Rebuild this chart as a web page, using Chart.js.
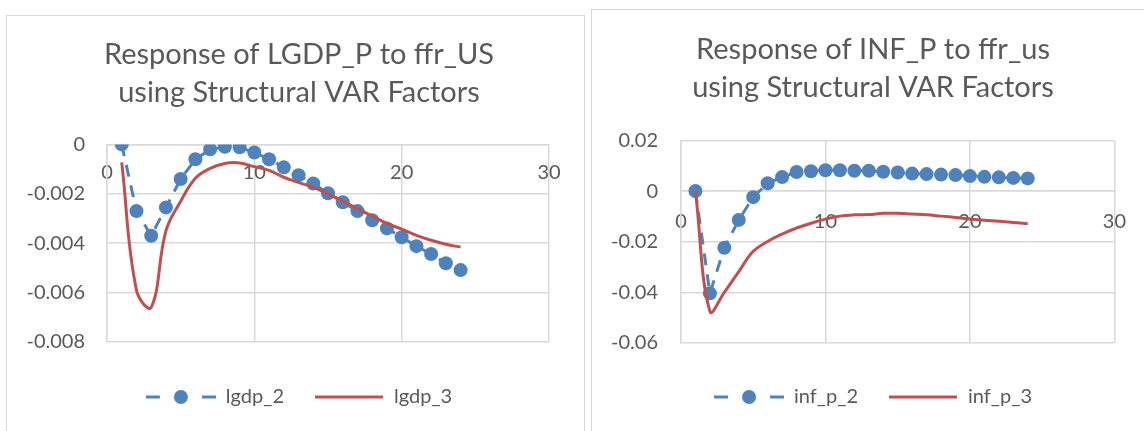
<!DOCTYPE html>
<html lang="en">
<head>
<meta charset="UTF-8">
<title>Structural VAR responses</title>
<script src="https://cdn.jsdelivr.net/npm/chart.js"></script>
<style>
  body { margin: 0; background: #fff; width: 1144px; height: 431px; overflow: hidden; position: relative; }
  .frame { position: absolute; border: 1px solid #d9d9d9; background: #fff; }
  .box { position: absolute; }
</style>
</head>
<body>
<div class="frame" style="left:6px;top:15px;width:577px;height:440px"></div>
<div class="frame" style="left:591px;top:9px;width:570px;height:440px"></div>
<div class="box" style="left:7px;top:16px;width:576px;height:415px"><canvas id="gdpChart"></canvas></div>
<div class="box" style="left:592px;top:10px;width:552px;height:421px"><canvas id="infChart"></canvas></div>

<script>
// horizon steps (shared)
const steps = [1, 2, 3, 4, 5, 6, 7, 8, 9, 10, 11, 12, 13, 14, 15, 16, 17, 18, 19, 20, 21, 22, 23, 24];
const xTicks = [0, 10, 20, 30];

// LGDP_P response
const gdpTitle = ['Response of LGDP_P to ffr_US', 'using Structural VAR Factors'];
const gdpNames = ['lgdp_2', 'lgdp_3'];
const lgdp2 = [0, -0.0027, -0.0037, -0.00255, -0.0014, -0.0006, -0.0002, -0.0001, -0.00012, -0.00033,
  -0.0006, -0.00093, -0.00125, -0.00158, -0.00198, -0.00234, -0.0027, -0.00307, -0.0034, -0.00376,
  -0.00412, -0.00444, -0.00481, -0.00509];
const lgdp3 = [-0.00073, -0.0059, -0.0066, -0.0035, -0.0023, -0.00137, -0.00097, -0.00077, -0.00075, -0.0009,
  -0.00105, -0.00133, -0.00154, -0.00174, -0.002, -0.0023, -0.0026, -0.0029, -0.0032, -0.00343,
  -0.00368, -0.00388, -0.00404, -0.00416];
const gdpTicks = [0, -0.002, -0.004, -0.006, -0.008];

// INF_P response
const infTitle = ['Response of INF_P to ffr_us', 'using Structural VAR Factors'];
const infNames = ['inf_p_2', 'inf_p_3'];
const inf2 = [0, -0.0404, -0.0224, -0.0114, -0.0024, 0.0031, 0.0055, 0.0075, 0.0078, 0.0082,
  0.0082, 0.008, 0.008, 0.0076, 0.0073, 0.0069, 0.0067, 0.0065, 0.0063, 0.0059,
  0.0056, 0.0054, 0.0052, 0.005];
const inf3 = [0, -0.0475, -0.04, -0.0318, -0.0238, -0.0199, -0.017, -0.0146, -0.0127, -0.0111,
  -0.0099, -0.0094, -0.0093, -0.0088, -0.0088, -0.0091, -0.0094, -0.0099, -0.0104, -0.011,
  -0.0115, -0.0119, -0.0124, -0.0129];
const infTicks = [0.02, 0, -0.02, -0.04, -0.06];

const BLUE = '#4f81bd';
const RED = '#c0504d';
const GRID = '#d9d9d9';
const TEXT = '#595959';
const FONT = 'Lato';

// legend markers: dash - dot - dash, and a plain line
function legendMark(kind) {
  const c = document.createElement('canvas');
  c.width = 70; c.height = 16;
  const g = c.getContext('2d');
  g.lineWidth = 3;
  if (kind === 'dot') {
    g.strokeStyle = BLUE;
    g.beginPath();
    g.moveTo(0, 8); g.lineTo(14, 8);
    g.moveTo(56, 8); g.lineTo(70, 8);
    g.stroke();
    g.fillStyle = BLUE;
    g.beginPath(); g.arc(35, 8, 7, 0, Math.PI * 2); g.fill();
  } else {
    g.strokeStyle = RED;
    g.beginPath(); g.moveTo(1, 8); g.lineTo(69, 8); g.stroke();
  }
  return c;
}
const marks = [legendMark('dot'), legendMark('line')];

function drawResponse(id, title, names, dotted, smooth, yTicks, lay) {
  const tickFont = { family: FONT, size: 20 };
  return new Chart(document.getElementById(id), {
    type: 'line',
    data: {
      datasets: [
        {
          label: names[0],
          data: steps.map((x, i) => ({ x: x, y: dotted[i] })),
          borderColor: BLUE,
          backgroundColor: BLUE,
          borderWidth: 3,
          borderDash: [12, 9],
          pointRadius: 7,
          pointHoverRadius: 7,
          pointBorderWidth: 0,
          tension: 0,
          order: 1
        },
        {
          label: names[1],
          data: steps.map((x, i) => ({ x: x, y: smooth[i] })),
          borderColor: RED,
          backgroundColor: RED,
          borderWidth: 3,
          pointRadius: 0,
          tension: 0.4,
          order: 0
        }
      ]
    },
    options: {
      responsive: true,
      maintainAspectRatio: false,
      animation: false,
      layout: { padding: { top: lay.top, bottom: lay.bottom, left: lay.left, right: 0 } },
      plugins: {
        title: {
          display: true,
          text: title,
          color: TEXT,
          font: { family: FONT, size: 29, weight: 'normal', lineHeight: 1.3 },
          padding: { top: 0, bottom: lay.titleGap }
        },
        legend: {
          position: 'bottom',
          labels: {
            usePointStyle: true,
            pointStyleWidth: 70,
            padding: 30,
            color: TEXT,
            font: { family: FONT, size: 20 },
            generateLabels: () => names.map((n, i) => ({
              text: n,
              pointStyle: marks[i],
              datasetIndex: i,
              fillStyle: i ? RED : BLUE,
              strokeStyle: i ? RED : BLUE,
              lineWidth: 0,
              hidden: false,
              fontColor: TEXT
            }))
          }
        },
        tooltip: { enabled: false }
      },
      scales: {
        x: {
          type: 'linear',
          position: { y: 0 },
          min: 0,
          max: 30,
          afterBuildTicks: s => { s.ticks = xTicks.map(v => ({ value: v })); },
          ticks: { color: TEXT, font: tickFont, padding: lay.xPad, maxRotation: 0 },
          grid: { color: GRID, lineWidth: 1.5, drawTicks: false },
          border: { color: GRID, width: 1.5 }
        },
        y: {
          min: Math.min(...yTicks),
          max: Math.max(...yTicks),
          afterBuildTicks: s => { s.ticks = yTicks.map(v => ({ value: v })); },
          afterFit: s => { s.width = lay.yWidth; },
          ticks: { color: TEXT, font: tickFont, padding: lay.yPad, callback: v => String(v) },
          grid: { color: GRID, lineWidth: 1.5, drawTicks: false },
          border: { color: GRID, width: 1.5 }
        },
        // empty spacers: room right of the plot and between the plot and the legend
        padRight: {
          axis: 'y', position: 'right', min: 0, max: 1,
          ticks: { display: false }, grid: { display: false, drawTicks: false }, border: { display: false },
          afterFit: s => { s.width = lay.right; }
        },
        padBottom: {
          type: 'linear', axis: 'x', position: 'bottom', min: 0, max: 1,
          ticks: { display: false }, grid: { display: false, drawTicks: false }, border: { display: false },
          afterFit: s => { s.height = lay.gap; }
        }
      }
    }
  });
}

drawResponse('gdpChart', gdpTitle, gdpNames, lgdp2, lgdp3, gdpTicks,
  { top: 20, titleGap: 33, bottom: 14, left: 8, yWidth: 92, yPad: 22, xPad: 16, right: 34, gap: 15 });
drawResponse('infChart', infTitle, infNames, inf2, inf3, infTicks,
  { top: 21, titleGap: 34, bottom: 14, left: 10, yWidth: 79, yPad: 23, xPad: 18, right: 28, gap: 14 });
</script>
</body>
</html>
